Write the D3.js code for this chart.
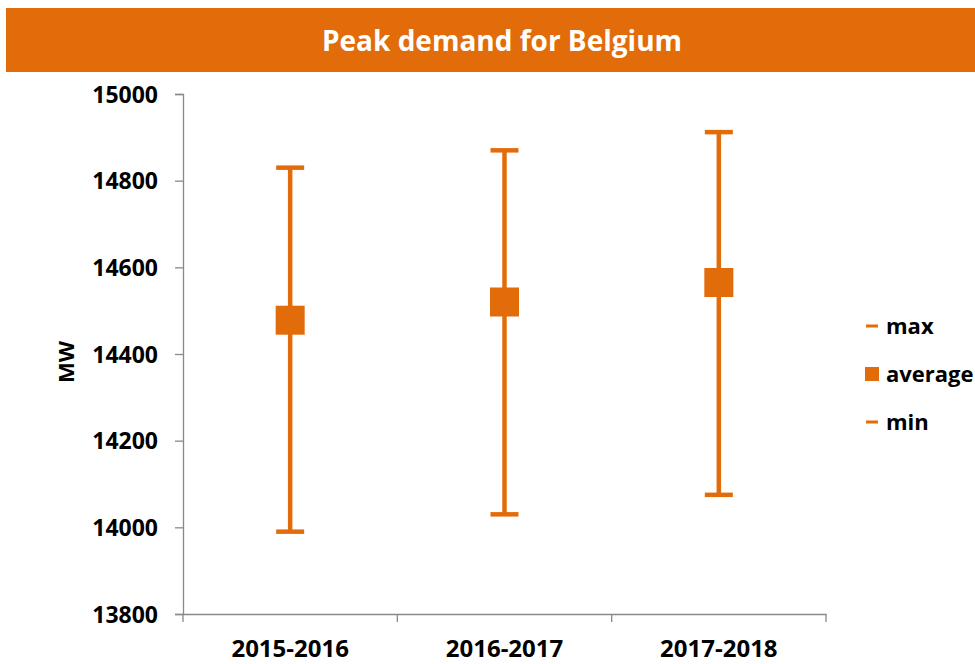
<!DOCTYPE html>
<html>
<head>
<meta charset="utf-8">
<script src="https://cdn.jsdelivr.net/npm/d3@7"></script>
<style>
  body { margin: 0; background: #fff; }
  svg text { font-family: "Open Sans", sans-serif; font-weight: bold; }
</style>
</head>
<body>
<div id="chart"></div>
<script>
// Data
const seasons = ["2015-2016", "2016-2017", "2017-2018"];
const maxValues = [14830, 14870, 14912];
const avgValues = [14478, 14520, 14565];
const minValues = [13990, 14030, 14075];
const yTicks = [13800, 14000, 14200, 14400, 14600, 14800, 15000];

const width = 975, height = 664;
const margin = { top: 94, right: 150, bottom: 50, left: 183 };
const orange = "#E36C0A";

const svg = d3.select("#chart").append("svg")
    .attr("width", width)
    .attr("height", height);

// Title banner
svg.append("rect")
    .attr("x", 6).attr("y", 8)
    .attr("width", width - 6).attr("height", 64)
    .attr("fill", orange);

svg.append("text")
    .attr("x", 502).attr("y", 51)
    .attr("text-anchor", "middle")
    .attr("fill", "#fff")
    .style("font-size", "28px")
    .text("Peak demand for Belgium");

// Scales
const x = d3.scaleBand()
    .domain(seasons)
    .range([margin.left, 826]);

const y = d3.scaleLinear()
    .domain([13800, 15000])
    .range([614, margin.top]);

// Y axis
const yAxis = svg.append("g")
    .attr("transform", `translate(${margin.left},0)`)
    .call(d3.axisLeft(y).tickValues(yTicks).tickSize(8).tickPadding(17).tickFormat(d3.format("d")));
yAxis.selectAll("path, line").attr("stroke", "#898989").attr("stroke-width", 1.3);
yAxis.selectAll("text")
    .attr("fill", "#000")
    .style("font-size", "23px")
    .style("font-family", "Open Sans, sans-serif")
    .style("font-weight", "bold")
    .attr("dy", "0.36em");

// X axis
const xAxis = svg.append("g")
    .attr("transform", `translate(0,614)`)
    .call(d3.axisBottom(x).tickSize(0).tickSizeOuter(0).tickPadding(25));
xAxis.select(".domain").attr("stroke", "#898989").attr("stroke-width", 1.3);
xAxis.selectAll("text")
    .attr("fill", "#000")
    .style("font-size", "24px")
    .style("font-family", "Open Sans, sans-serif")
    .style("font-weight", "bold")
    .attr("dy", "0.75em");

// X axis boundary ticks between categories
const boundaries = seasons.map(s => x(s)).concat([x.range()[1]]);
svg.append("g").selectAll("line")
    .data(boundaries)
    .join("line")
    .attr("x1", d => d).attr("x2", d => d)
    .attr("y1", 614).attr("y2", 622)
    .attr("stroke", "#898989")
    .attr("stroke-width", 1.3);

// Axis title
svg.append("text")
    .attr("transform", "translate(74,362) rotate(-90)")
    .attr("text-anchor", "middle")
    .style("font-size", "22px")
    .text("MW");

// Error bars
const rows = seasons.map((s, i) => ({ season: s, max: maxValues[i], avg: avgValues[i], min: minValues[i] }));
const cx = d => x(d.season) + x.bandwidth() / 2;
const capW = 28, boxSize = 29;

const g = svg.append("g");
g.selectAll(".whisker")
    .data(rows)
    .join("line")
    .attr("x1", cx).attr("x2", cx)
    .attr("y1", d => y(d.max)).attr("y2", d => y(d.min))
    .attr("stroke", orange)
    .attr("stroke-width", 4.5);

g.selectAll(".capTop")
    .data(rows)
    .join("line")
    .attr("x1", d => cx(d) - capW / 2).attr("x2", d => cx(d) + capW / 2)
    .attr("y1", d => y(d.max)).attr("y2", d => y(d.max))
    .attr("stroke", orange)
    .attr("stroke-width", 4.5);

g.selectAll(".capBottom")
    .data(rows)
    .join("line")
    .attr("x1", d => cx(d) - capW / 2).attr("x2", d => cx(d) + capW / 2)
    .attr("y1", d => y(d.min)).attr("y2", d => y(d.min))
    .attr("stroke", orange)
    .attr("stroke-width", 4.5);

g.selectAll(".avg")
    .data(rows)
    .join("rect")
    .attr("x", d => cx(d) - boxSize / 2)
    .attr("y", d => y(d.avg) - boxSize / 2)
    .attr("width", boxSize).attr("height", boxSize)
    .attr("fill", orange);

// Legend
const legend = svg.append("g").attr("transform", "translate(865,0)");
const legendItems = [
    { label: "max", y: 326, type: "dash" },
    { label: "average", y: 374, type: "box" },
    { label: "min", y: 422, type: "dash" }
];
legendItems.forEach(item => {
    if (item.type === "dash") {
        legend.append("rect")
            .attr("x", 1).attr("y", item.y - 1.5)
            .attr("width", 12).attr("height", 3)
            .attr("fill", orange);
    } else {
        legend.append("rect")
            .attr("x", 0).attr("y", item.y - 7)
            .attr("width", 14).attr("height", 14)
            .attr("fill", orange);
    }
    legend.append("text")
        .attr("x", 21).attr("y", item.y)
        .attr("dy", "0.36em")
        .style("font-size", "22px")
        .text(item.label);
});
</script>
</body>
</html>
